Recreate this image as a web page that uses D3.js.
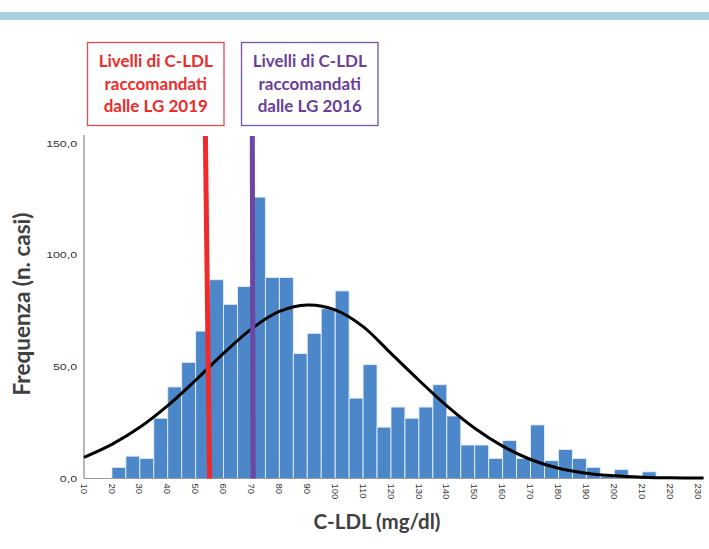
<!DOCTYPE html>
<html>
<head>
<meta charset="utf-8">
<script src="https://cdn.jsdelivr.net/npm/d3@7"></script>
<style>
  body { margin: 0; background: #fff; }
  svg { display: block; }
</style>
</head>
<body>
<svg id="chart" width="709" height="549"></svg>
<script>
// ---- data ----
const binStart = [20,25,30,35,40,45,50,55,60,65,70,75,80,85,90,95,100,105,110,115,120,125,130,135,140,145,150,155,160,165,170,175,180,185,190,195,200,205,210];
const binWidth = 5;
const counts   = [5,10,9,27,41,52,66,89,78,86,126,90,90,56,65,76,84,36,51,23,32,27,32,42,28,15,15,9,17,9,24,8,13,9,5,1,4,0,3];
const curveX = [10,20,30,40,50,60,70,80,90,100,110,120,130,140,150,160,170,180,190,200,210,220,232];
const curveY = [9.5,15.3,22.9,32.6,44,56,67,74.8,77.7,75.5,68,56,44,32.5,22.5,14.5,8.5,4.6,2.4,1.2,0.6,0.3,0.2];
const xTicks = [10,20,30,40,50,60,70,80,90,100,110,120,130,140,150,160,170,180,190,200,210,220,230];
const yTicks = [0,50,100,150];
const refLines = [
  {label: ["Livelli di C-LDL","raccomandati","dalle LG 2019"], xTop: 53.5, xBottom: 55, color: "#ee2a2a", text: "#ee2a2a", border: "#e8494c"},
  {label: ["Livelli di C-LDL","raccomandati","dalle LG 2016"], xTop: 70.3, xBottom: 70.6, color: "#6d45a3", text: "#6a3f9a", border: "#7455a6"}
];

// ---- layout ----
const svg = d3.select("#chart");
const x = d3.scaleLinear().domain([10, 230]).range([84, 698]);
const y = d3.scaleLinear().domain([0, 150]).range([478.5, 143.5]);

// top banner
svg.append("rect").attr("x", 0).attr("y", 12).attr("width", 709).attr("height", 8).attr("fill", "#a7d0e3");

// bars
svg.append("g").selectAll("rect").data(counts).join("rect")
  .attr("x", (d, i) => x(binStart[i]))
  .attr("y", d => y(d))
  .attr("width", (d, i) => x(binStart[i] + binWidth) - x(binStart[i]))
  .attr("height", d => y(0) - y(d))
  .attr("fill", "#4c88c9")
  .attr("stroke", "#e4eef8")
  .attr("stroke-width", 0.9);

// axes lines
svg.append("line").attr("x1", x(10)).attr("x2", x(10)).attr("y1", 135).attr("y2", y(0))
  .attr("stroke", "#8a8a8a").attr("stroke-width", 1.2);
svg.append("line").attr("x1", x(10)).attr("x2", x(230)).attr("y1", y(0)).attr("y2", y(0))
  .attr("stroke", "#9a9a9a").attr("stroke-width", 1);

// y ticks labels
const fmt = v => d3.format(".1f")(v).replace(".", ",");
svg.append("g").selectAll("text").data(yTicks).join("text")
  .attr("transform", d => `translate(77,${y(d)}) scale(1.3,1)`)
  .attr("dy", "0.35em")
  .attr("text-anchor", "end")
  .attr("font-family", "Liberation Sans, Arial, sans-serif")
  .attr("font-size", 9.5).attr("fill", "#333")
  .text(fmt);

// x tick labels rotated
svg.append("g").selectAll("text").data(xTicks).join("text")
  .attr("transform", d => `translate(${x(d)},${y(0) + 5}) rotate(90)`)
  .attr("dy", "0.35em")
  .attr("text-anchor", "start")
  .attr("font-family", "Liberation Sans, Arial, sans-serif")
  .attr("font-size", 9.5).attr("fill", "#333")
  .text(d => d);

// normal curve
const pts = curveX.map((v, i) => [v, curveY[i]]);
svg.append("path").datum(pts)
  .attr("d", d3.line().x(d => x(d[0])).y(d => y(d[1])).curve(d3.curveCatmullRom))
  .attr("fill", "none").attr("stroke", "#000").attr("stroke-width", 3);

// reference lines
svg.append("g").selectAll("line").data(refLines).join("line")
  .attr("x1", d => x(d.xTop)).attr("x2", d => x(d.xBottom))
  .attr("y1", 136).attr("y2", y(0))
  .attr("stroke", d => d.color).attr("stroke-width", 5);

// label boxes
const boxes = [{x0: 87.5, x1: 224}, {x0: 241.5, x1: 378}];
refLines.forEach((r, i) => {
  const b = boxes[i];
  svg.append("rect").attr("x", b.x0).attr("y", 42.5).attr("width", b.x1 - b.x0).attr("height", 83)
    .attr("fill", "#fff").attr("stroke", r.border).attr("stroke-width", 1.3);
  r.label.forEach((t, j) => {
    svg.append("text")
      .attr("x", (b.x0 + b.x1) / 2).attr("y", 61.5 + j * 22.5).attr("dy", "0.35em")
      .attr("text-anchor", "middle")
      .attr("font-family", "Lato, 'Open Sans', sans-serif")
      .attr("font-weight", "bold").attr("font-size", 17)
      .attr("fill", r.text)
      .text(t);
  });
});

// axis titles
svg.append("text")
  .attr("transform", "translate(22,304) rotate(-90)")
  .attr("text-anchor", "middle").attr("dy", "0.35em")
  .attr("font-family", "Lato, 'Open Sans', sans-serif")
  .attr("font-weight", "bold").attr("font-size", 22.5).attr("fill", "#404040")
  .text("Frequenza (n. casi)");
svg.append("text")
  .attr("x", 377).attr("y", 522).attr("dy", "0.35em")
  .attr("text-anchor", "middle")
  .attr("font-family", "Lato, 'Open Sans', sans-serif")
  .attr("font-weight", "bold").attr("font-size", 20.5).attr("fill", "#404040")
  .text("C-LDL (mg/dl)");
</script>
</body>
</html>
